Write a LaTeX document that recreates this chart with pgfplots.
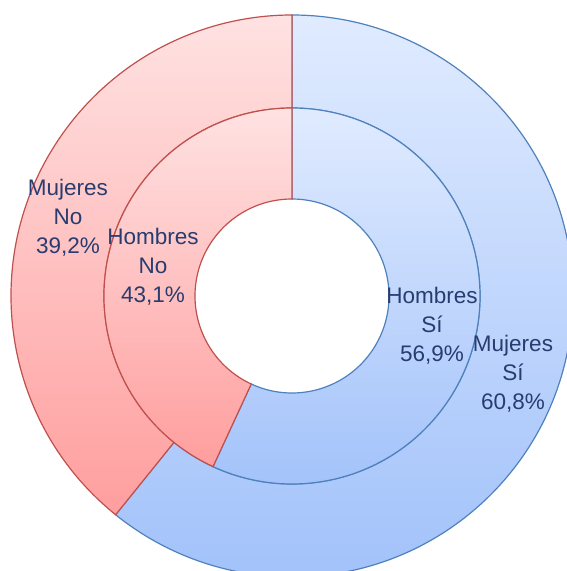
\documentclass[border=0pt]{standalone}
\usepackage{pgfplots}
\pgfplotsset{compat=1.18}
\usepackage{fontspec}
\setmainfont{Liberation Sans}

\definecolor{txt}{RGB}{40,60,112}
\definecolor{redtop}{RGB}{255,226,226}
\definecolor{redbot}{RGB}{255,158,158}
\definecolor{redline}{RGB}{192,80,77}
\definecolor{bluetop}{RGB}{224,235,255}
\definecolor{bluebot}{RGB}{162,194,250}
\definecolor{blueline}{RGB}{79,129,189}

% centre of the rings in axis units (1 unit = 1pt)
\def\cx{292}
\def\cy{275}

% #1 inner radius, #2 outer radius, #3 share of "Si" in percent
\newcommand{\ring}[3]{%
  \pgfmathsetmacro{\ang}{90-3.6*#3}%
  \edef\tmp{%
    \noexpand\path[draw=blueline, line width=1.2pt, top color=bluetop, bottom color=bluebot]
      ([shift={(90:#2pt)}]axis cs:\cx,\cy) arc[start angle=90, end angle=\ang, radius=#2pt]
      -- ([shift={(\ang:#1pt)}]axis cs:\cx,\cy) arc[start angle=\ang, end angle=90, radius=#1pt] -- cycle;
    \noexpand\path[draw=redline, line width=1.2pt, top color=redtop, bottom color=redbot]
      ([shift={(\ang:#2pt)}]axis cs:\cx,\cy) arc[start angle=\ang, end angle=-270, radius=#2pt]
      -- ([shift={(-270:#1pt)}]axis cs:\cx,\cy) arc[start angle=-270, end angle=\ang, radius=#1pt] -- cycle;
  }\tmp
}

\begin{document}
\begin{tikzpicture}
\begin{axis}[
    x=1pt, y=1pt,
    disabledatascaling,
    xmin=0, xmax=567, ymin=0, ymax=571,
    hide axis,
    clip=true,
]
% outer ring: Mujeres, inner ring: Hombres
\ring{188}{281}{60.8}
\ring{97}{188}{56.9}

\begin{scope}[every node/.style={text=txt, align=center, inner sep=0pt, font=\fontsize{22.5}{29}\selectfont}]
\node at (axis cs:68,353) {Mujeres\\No\\39,2\%};
\node at (axis cs:153,304) {Hombres\\No\\43,1\%};
\node at (axis cs:432,245) {Hombres\\Sí\\56,9\%};
\node at (axis cs:513,197) {Mujeres\\Sí\\60,8\%};
\end{scope}
\end{axis}
\pgfresetboundingbox
\path[use as bounding box] (current axis.south west) rectangle (current axis.north east);
\end{tikzpicture}
\end{document}
